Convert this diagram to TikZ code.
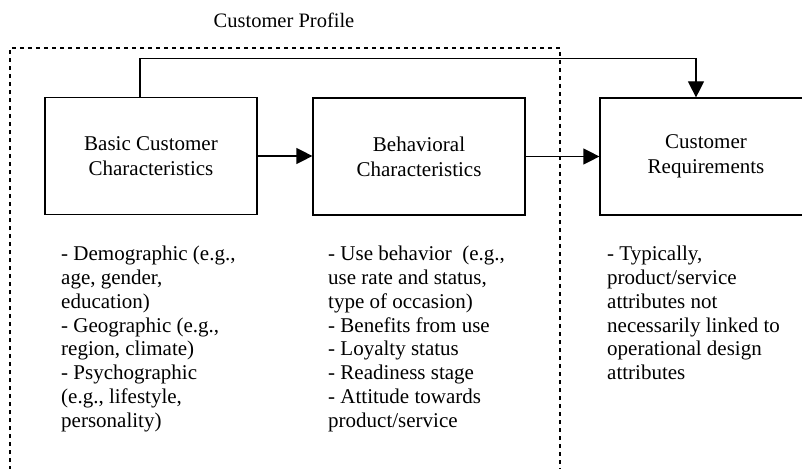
\documentclass[tikz,border=0pt]{standalone}
\usepackage{fontspec}
\setmainfont{Liberation Serif}
\usetikzlibrary{arrows.meta}
\begin{document}
\begin{tikzpicture}[x=1pt,y=-1pt,
  box/.style={draw,line width=1.2pt,minimum width=212pt,minimum height=117pt,inner sep=0pt,align=center,font=\fontsize{21}{25}\selectfont},
  lst/.style={anchor=north west,inner sep=0pt,align=left,font=\fontsize{21}{23.8}\selectfont},
  arr/.style={line width=1.2pt,-{Triangle[length=16pt,width=16pt]}},
  frame/.style={line width=1.2pt,dash pattern=on 4pt off 4pt}]
\useasboundingbox (0,0) rectangle (802,468);
\clip (0,0) rectangle (802,468);
\node[font=\fontsize{20.5}{24}\selectfont] (title) at (284,20) {Customer Profile};
\coordinate (fbl) at (10,470);
\coordinate (ftl) at (10,48);
\coordinate (ftr) at (560,48);
\coordinate (fbr) at (560,470);
\draw[frame] (fbl) -- (ftl) -- (ftr) -- (fbr);
\node[box] (b1) at (151,156) {Basic Customer\\Characteristics};
\node[box] (b2) at (419,156.5) {Behavioral\\Characteristics};
\node[box] (b3) at (706,156.5) {Customer\\Requirements};
\draw[arr] (b1.east) -- (b1.east -| b2.west);
\draw[arr] (b2.east) -- (b2.east -| b3.west);
\draw[arr] ([xshift=-11pt]b1.north) -- ++(0,-38) -| ([xshift=-10pt]b3.north);
\node[lst] (l1) at (61,246) {- Demographic (e.g.,\\age, gender,\\education)\\- Geographic (e.g.,\\region, climate)\\- Psychographic\\(e.g., lifestyle,\\personality)};
\node[lst] (l2) at (328,246) {- Use behavior\ \ (e.g.,\\use rate and status,\\type of occasion)\\- Benefits from use\\- Loyalty status\\- Readiness stage\\- Attitude towards\\product/service};
\node[lst] (l3) at (607,246) {- Typically,\\product/service\\attributes not\\necessarily linked to\\operational design\\attributes};
\end{tikzpicture}
\end{document}
